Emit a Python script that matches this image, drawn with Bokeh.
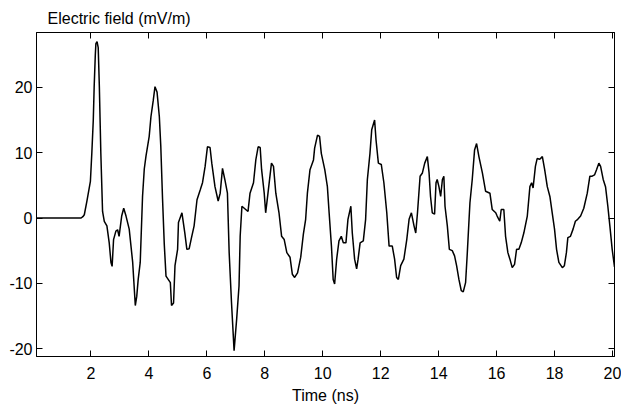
from bokeh.plotting import figure
from bokeh.models import LinearAxis, Range1d, FixedTicker, CustomLabelingPolicy
from bokeh.embed import file_html
from bokeh.resources import INLINE

time_ns = [0.12, 1.66, 1.72, 1.77, 1.86, 1.98, 2.03, 2.08, 2.11, 2.15, 2.17, 2.21, 2.25, 2.29, 2.32, 2.34,
           2.40, 2.46, 2.55, 2.63, 2.69, 2.73, 2.78, 2.86, 2.92, 2.97, 3.06, 3.13, 3.21, 3.32, 3.44, 3.53,
           3.58, 3.63, 3.70, 3.78, 3.84, 3.90, 4.01, 4.07, 4.15, 4.21, 4.28, 4.36, 4.41, 4.47, 4.53, 4.59,
           4.74, 4.78, 4.85, 4.90, 4.99, 5.02, 5.14, 5.24, 5.31, 5.39, 5.47, 5.56, 5.66, 5.77, 5.85, 5.94,
           6.02, 6.11, 6.17, 6.28, 6.39, 6.46, 6.54, 6.62, 6.71, 6.77, 6.85, 6.94, 7.03, 7.11, 7.15, 7.21,
           7.29, 7.42, 7.49, 7.61, 7.69, 7.77, 7.84, 7.89, 7.98, 8.03, 8.11, 8.23, 8.30, 8.38, 8.49, 8.58,
           8.67, 8.76, 8.87, 8.95, 9.03, 9.13, 9.24, 9.33, 9.41, 9.47, 9.56, 9.68, 9.72, 9.82, 9.89, 9.95,
           10.07, 10.16, 10.22, 10.30, 10.36, 10.41, 10.48, 10.56, 10.64, 10.71, 10.80, 10.87, 10.97, 11.02,
           11.10, 11.17, 11.22, 11.29, 11.40, 11.48, 11.54, 11.63, 11.69, 11.79, 11.84, 11.92, 12.02, 12.11,
           12.21, 12.29, 12.40, 12.48, 12.55, 12.61, 12.69, 12.80, 12.90, 12.98, 13.06, 13.15, 13.21, 13.27,
           13.36, 13.44, 13.52, 13.61, 13.67, 13.72, 13.78, 13.86, 13.91, 13.95, 14.01, 14.07, 14.13, 14.18,
           14.22, 14.30, 14.37, 14.47, 14.55, 14.62, 14.70, 14.78, 14.85, 14.93, 14.99, 15.05, 15.08, 15.16,
           15.24, 15.31, 15.39, 15.51, 15.62, 15.77, 15.85, 15.97, 16.02, 16.11, 16.16, 16.25, 16.31, 16.39,
           16.46, 16.54, 16.62, 16.69, 16.77, 16.85, 16.94, 17.06, 17.15, 17.21, 17.26, 17.34, 17.40, 17.49,
           17.58, 17.66, 17.75, 17.84, 17.92, 18.00, 18.07, 18.15, 18.27, 18.34, 18.41, 18.46, 18.55, 18.64,
           18.72, 18.80, 18.90, 19.01, 19.13, 19.22, 19.30, 19.38, 19.45, 19.53, 19.59, 19.68, 19.76, 19.84,
           19.91, 19.99, 20.07]

field_mv_m = [0.0, 0.0, 0.2, 0.5, 2.6, 5.6, 10.0, 15.0, 20.0, 25.0, 26.7, 27.0, 26.1, 20.0, 14.0, 10.0,
              1.0, -0.5, -1.2, -3.8, -6.8, -7.4, -3.3, -2.0, -1.8, -2.8, 0.3, 1.5, 0.3, -1.7, -6.8, -13.4,
              -12.0, -9.4, -6.8, 3.3, 7.5, 9.5, 12.5, 15.5, 18.0, 20.1, 19.3, 15.5, 11.0, 3.0, -4.0, -8.9,
              -9.9, -13.4, -13.0, -7.3, -4.8, -0.7, 0.8, -2.3, -4.8, -4.7, -3.0, -1.2, 2.8, 4.3, 5.4, 7.9,
              10.9, 10.8, 8.4, 4.8, 2.6, 3.8, 7.6, 5.9, 3.8, -5.3, -12.9, -20.3, -15.4, -10.4, -2.8, 1.8,
              1.5, 1.0, 3.8, 5.4, 8.9, 10.9, 10.8, 7.4, 3.8, 0.8, 3.8, 8.4, 7.9, 3.8, 0.8, -2.8,
              -3.3, -5.3, -6.0, -8.6, -9.1, -8.4, -6.0, -2.5, -0.2, 3.8, 7.4, 8.9, 10.7, 12.7, 12.5, 9.9,
              7.4, 4.8, 0.8, -4.3, -9.4, -10.1, -6.3, -3.5, -2.8, -3.8, -3.8, -0.2, 1.8, -2.3,
              -6.3, -7.8, -6.3, -3.8, -3.5, -0.2, 5.9, 9.9, 13.5, 15.0, 11.9, 8.4, 8.2, 5.4,
              0.8, -4.3, -4.3, -6.3, -9.1, -9.4, -7.3, -6.3, -3.3, -0.2, 0.8, -1.2, -2.3, 0.8,
              6.4, 6.9, 8.4, 9.4, 6.9, 3.3, 0.8, 0.6, 5.4, 5.9, 4.8, 3.3, 5.9, 6.4,
              1.8, -1.2, -4.8, -5.0, -5.8, -7.3, -9.4, -11.1, -11.3, -9.9, -5.3, -0.2, 2.3, 5.9,
              10.4, 11.4, 9.4, 6.9, 4.1, 3.8, 1.3, 0.8, 0.3, -0.5, 1.3, 1.3, -2.8, -5.3,
              -6.3, -7.6, -7.1, -4.8, -4.8, -3.8, -2.3, 0.3, 4.8, 5.4, 4.6, 7.9, 9.1, 9.0,
              9.4, 7.4, 4.8, 3.3, 0.8, -1.7, -4.8, -6.8, -7.6, -7.3, -5.3, -3.0, -2.8, -1.7,
              -0.5, -0.2, 0.3, 1.5, 3.8, 6.4, 6.4, 6.6, 7.4, 8.4, 7.9, 5.9, 4.8, 1.8,
              -1.2, -4.8, -7.5]

x_ticks = [2, 4, 6, 8, 10, 12, 14, 16, 18, 20]
x_tick_labels = ["2", "4", "6", "8", "10", "12", "14", "16", "18", "20"]
y_ticks = [-20, -10, 0, 10, 20]
y_tick_labels = ["-20", "-10", "0", "10", "20"]

FONT = "Liberation Sans"

p = figure(width=621, height=406, output_backend="svg", toolbar_location=None,
           x_range=Range1d(0.12, 20.07), y_range=Range1d(-21.2, 28.4),
           min_border_left=36, min_border_right=7, min_border_top=32, min_border_bottom=48,
           title="Electric field (mV/m)")

p.title.align = "left"
p.title.offset = 11
p.title.text_font = FONT
p.title.text_font_size = "16px"
p.title.text_font_style = "normal"
p.title.text_color = "black"
p.title.standoff = 4

p.background_fill_color = "white"
p.border_fill_color = "white"
p.outline_line_color = "black"
p.outline_line_width = 1
p.xgrid.visible = False
p.ygrid.visible = False

p.line(time_ns, field_mv_m, line_color="black", line_width=1.5)


def style_axis(ax, ticks, labels, size="16px"):
    ax.ticker = FixedTicker(ticks=ticks, minor_ticks=[])
    ax.major_label_overrides = {t: l for t, l in zip(ticks, labels)}
    ax.major_tick_in = 6
    ax.major_tick_out = 0
    ax.minor_tick_in = 0
    ax.minor_tick_out = 0
    ax.axis_line_color = "black"
    ax.major_tick_line_color = "black"
    ax.major_label_text_font = FONT
    ax.major_label_text_font_size = size
    ax.major_label_text_color = "black"
    ax.axis_label_text_font = FONT
    ax.axis_label_text_font_size = "16px"
    ax.axis_label_text_font_style = "normal"
    ax.axis_label_text_color = "black"


xa = p.xaxis[0]
style_axis(xa, x_ticks, x_tick_labels)
xa.major_label_standoff = 10
xa.axis_label = "Time (ns)"
xa.axis_label_standoff = 5

ya = p.yaxis[0]
style_axis(ya, y_ticks, y_tick_labels)
ya.major_label_standoff = 4

# mirrored tick-only axes (box style): labels filtered out entirely
HIDE = "for (const i of indices) indices.unset(i); return indices"

top = LinearAxis()
style_axis(top, x_ticks, x_tick_labels, size="1px")
top.major_label_policy = CustomLabelingPolicy(code=HIDE)
top.major_label_standoff = 0
p.add_layout(top, "above")

right = LinearAxis()
style_axis(right, y_ticks, y_tick_labels, size="1px")
right.major_label_policy = CustomLabelingPolicy(code=HIDE)
right.major_label_standoff = 0
p.add_layout(right, "right")

open("out.html", "w").write(file_html(p, INLINE))
